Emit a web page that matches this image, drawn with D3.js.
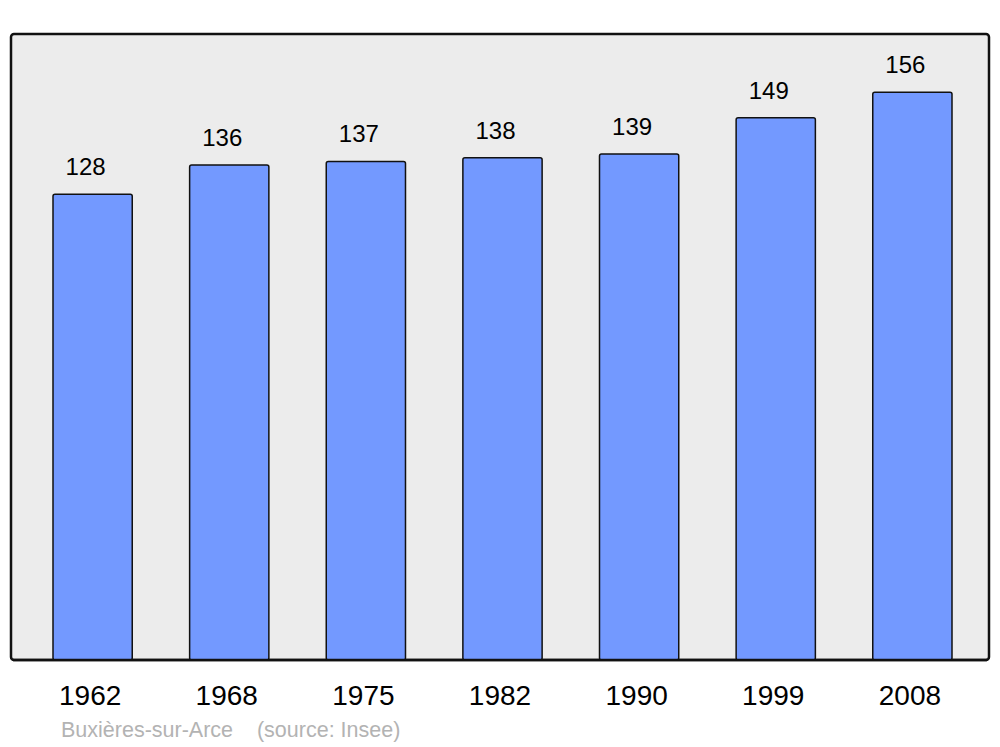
<!DOCTYPE html>
<html><head><meta charset="utf-8">
<script src="https://cdn.jsdelivr.net/npm/d3@7"></script>
<style>body{margin:0;background:#fff}svg{display:block}</style>
</head><body>
<svg id="c" width="1000" height="747"></svg>
<script>
const years = ["1962","1968","1975","1982","1990","1999","2008"];
const population = [128,136,137,138,139,149,156];
const sourceText = "Buxières-sur-Arce    (source: Insee)";

const svg = d3.select("#c");
const x = d3.scaleBand().domain(years).range([53, 952]).paddingInner(0.42).paddingOuter(0);
const y = d3.scaleLinear().domain([0, 172]).range([660, 34]);

svg.append("rect").attr("x", 11).attr("y", 34).attr("width", 978).attr("height", 626)
  .attr("rx", 3).attr("fill", "#ececec").attr("stroke", "#111").attr("stroke-width", 2.5);

const data = years.map((yr, i) => ({yr, v: population[i]}));

svg.selectAll("rect.bar").data(data).enter().append("rect").attr("class", "bar")
  .attr("x", d => x(d.yr)).attr("y", d => y(d.v))
  .attr("width", x.bandwidth()).attr("height", d => y(0) - y(d.v))
  .attr("rx", 2).attr("fill", "#7399ff").attr("stroke", "#111").attr("stroke-width", 1.5);

svg.selectAll("text.val").data(data).enter().append("text").attr("class", "val")
  .attr("x", d => x(d.yr) + x.bandwidth() / 2 - 7).attr("y", d => y(d.v) - 19)
  .attr("text-anchor", "middle").attr("font-family", "Liberation Sans, Arial, sans-serif")
  .attr("font-size", 24).attr("fill", "#000").text(d => d.v);

// redraw frame bottom line above bars
svg.append("line").attr("x1", 13).attr("x2", 987).attr("y1", 660).attr("y2", 660)
  .attr("stroke", "#111").attr("stroke-width", 2.5);

const xAxis = d3.axisBottom(x).tickSize(0).tickPadding(0);
const gx = svg.append("g").attr("transform", "translate(-2.5,705)").call(xAxis);
gx.select(".domain").remove();
gx.selectAll("text").attr("dy", 0).attr("font-family", "Liberation Sans, Arial, sans-serif")
  .attr("font-size", 28).attr("fill", "#000");

svg.append("text").attr("x", 61).attr("y", 737).attr("font-family", "Liberation Sans, Arial, sans-serif")
  .attr("font-size", 21.5).attr("fill", "#b3b3b3").attr("xml:space", "preserve").style("white-space", "pre")
  .text(sourceText);
</script>
</body></html>
